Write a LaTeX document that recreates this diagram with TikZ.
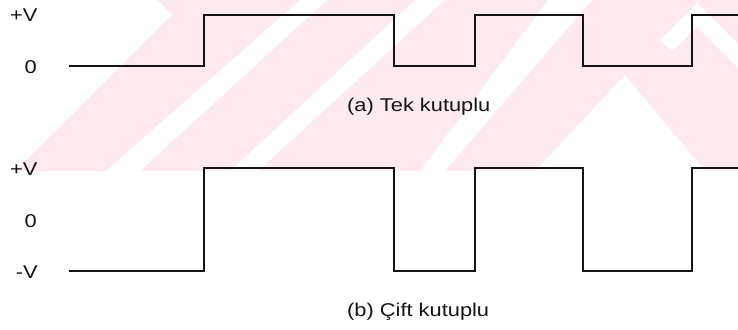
\documentclass[tikz,border=0pt]{standalone}
\usepackage{fontspec}
\setmainfont{Liberation Sans}
\definecolor{wmpink}{RGB}{252,234,238}
\definecolor{inkc}{RGB}{20,20,20}
\tikzset{
  lbl/.style={inner sep=0pt, font=\fontsize{18.5}{20}\selectfont, text=inkc},
  wave/.style={draw=inkc, line width=1.4pt, line join=miter},
  wmwhite/.style={fill=white, draw=none}
}
\newcommand{\sx}[1]{\scalebox{1.18}[1]{#1}}
\begin{document}
\begin{tikzpicture}[x=1pt,y=-1pt]
\useasboundingbox (0,0) rectangle (738,329);
% watermark (faint pink stripes)
\begin{scope}
\clip (0,0) rectangle (738,171);
\fill[wmpink] (0,0) rectangle (738,171);
\fill[wmwhite] (0,0) -- (157,0) -- (172,15) -- (15,171) -- (0,171) -- cycle;
\fill[wmwhite] (300,0) -- (327,0) -- (140,171) -- (106,171) -- cycle;
\fill[wmwhite] (415,0) -- (445,0) -- (258,171) -- (230,171) -- cycle;
\fill[wmwhite] (548,0) -- (592,0) -- (445,171) -- (420,171) -- cycle;
\fill[wmwhite] (625,75) -- (705,171) -- (535,171) -- cycle;
\fill[wmwhite] (697,3) -- (738,44) -- (738,68) -- (697,27) -- (672,52) -- (660,40) -- cycle;
\end{scope}
% labels (a)
\node[lbl, anchor=base west] (pva) at (10,21.7) {\sx{+V}};
\node[lbl, anchor=base west] (za) at (24.5,73) {\sx{0}};
\node[lbl, anchor=base west] (capa) at (347,111) {\sx{(a) Tek kutuplu}};
% labels (b)
\node[lbl, anchor=base west] (pvb) at (10,175) {\sx{+V}};
\node[lbl, anchor=base west] (zb) at (24.5,227) {\sx{0}};
\node[lbl, anchor=base east] (mvb) at (38,278) {\sx{-V}};
\node[lbl, anchor=base west] (capb) at (347,316) {\sx{(b) Çift kutuplu}};
% waveform (a) unipolar
\draw[wave] (69,66) -- (204,66) -- (204,15) -- (394,15) -- (394,66) -- (475,66)
  -- (475,15) -- (583,15) -- (583,66) -- (692,66) -- (692,15) -- (740,15);
% waveform (b) bipolar
\draw[wave] (69,271) -- (204,271) -- (204,168) -- (394,168) -- (394,271) -- (475,271)
  -- (475,168) -- (583,168) -- (583,271) -- (692,271) -- (692,168) -- (740,168);
\end{tikzpicture}
\end{document}
